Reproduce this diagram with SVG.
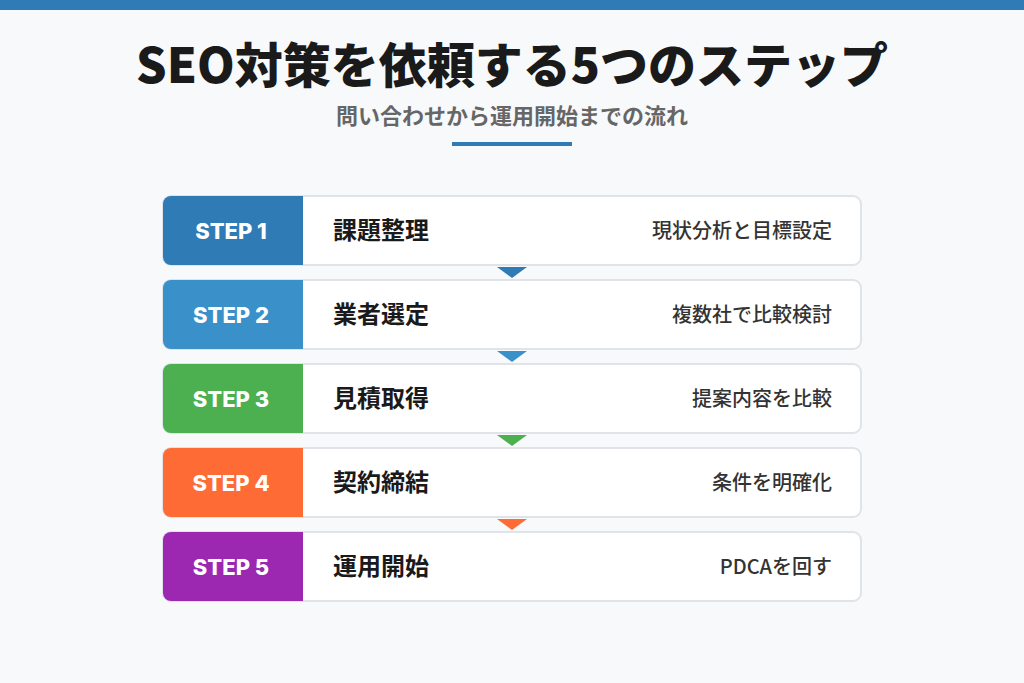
<svg xmlns="http://www.w3.org/2000/svg" width="1024" height="683" viewBox="0 0 1024 683">
<defs>
<style>
.bg{fill:#F7F9FB}
.card{fill:#FFFFFF;stroke:#E0E3E8;stroke-width:2}
.step{font-family:"Inter","Liberation Sans",sans-serif;font-weight:800;font-size:22px;fill:#FFFFFF;text-anchor:middle}
.name{font-family:"Noto Sans CJK JP",sans-serif;font-weight:700;font-size:24px;fill:#1A1A1A}
.desc{font-family:"Noto Sans CJK JP",sans-serif;font-weight:500;font-size:20px;fill:#333333;text-anchor:end}
</style>
</defs>
<rect class="bg" x="0" y="0" width="1024" height="683"/>
<rect x="0" y="0" width="1024" height="10" fill="#2E7BB6"/>
<text x="512" y="83" text-anchor="middle" font-family="'Noto Sans CJK JP',sans-serif" font-weight="900" font-size="48" fill="#1A1A1A">SEO対策を依頼する5つのステップ</text>
<text x="512" y="124" text-anchor="middle" font-family="'Noto Sans CJK JP',sans-serif" font-weight="700" font-size="22" fill="#666666">問い合わせから運用開始までの流れ</text>
<rect x="452" y="142" width="120" height="4" fill="#2E7BB6"/>

<g id="step1">
<rect class="card" x="163" y="196" width="698" height="69" rx="8"/>
<path d="M171,196 H303 V265 H171 A8,8 0 0 1 163,257 V204 A8,8 0 0 1 171,196 Z" fill="#2E7BB6"/>
<text class="step" x="231" y="239">STEP 1</text>
<text class="name" x="333" y="239">課題整理</text>
<text class="desc" x="832" y="238">現状分析と目標設定</text>
</g>
<g id="step2">
<rect class="card" x="163" y="280" width="698" height="69" rx="8"/>
<path d="M171,280 H303 V349 H171 A8,8 0 0 1 163,341 V288 A8,8 0 0 1 171,280 Z" fill="#3A90C9"/>
<text class="step" x="231" y="323">STEP 2</text>
<text class="name" x="333" y="323">業者選定</text>
<text class="desc" x="832" y="322">複数社で比較検討</text>
</g>
<g id="step3">
<rect class="card" x="163" y="364" width="698" height="69" rx="8"/>
<path d="M171,364 H303 V433 H171 A8,8 0 0 1 163,425 V372 A8,8 0 0 1 171,364 Z" fill="#4CAF50"/>
<text class="step" x="231" y="407">STEP 3</text>
<text class="name" x="333" y="407">見積取得</text>
<text class="desc" x="832" y="406">提案内容を比較</text>
</g>
<g id="step4">
<rect class="card" x="163" y="448" width="698" height="69" rx="8"/>
<path d="M171,448 H303 V517 H171 A8,8 0 0 1 163,509 V456 A8,8 0 0 1 171,448 Z" fill="#FF6B35"/>
<text class="step" x="231" y="491">STEP 4</text>
<text class="name" x="333" y="491">契約締結</text>
<text class="desc" x="832" y="490">条件を明確化</text>
</g>
<g id="step5">
<rect class="card" x="163" y="532" width="698" height="69" rx="8"/>
<path d="M171,532 H303 V601 H171 A8,8 0 0 1 163,593 V540 A8,8 0 0 1 171,532 Z" fill="#9C27B0"/>
<text class="step" x="231" y="575">STEP 5</text>
<text class="name" x="333" y="575">運用開始</text>
<text class="desc" x="832" y="574">PDCAを回す</text>
</g>

<g id="connectors">
<polygon points="497,267 527,267 512,278" fill="#2E7BB6"/>
<polygon points="497,351 527,351 512,362" fill="#3A90C9"/>
<polygon points="497,435 527,435 512,446" fill="#4CAF50"/>
<polygon points="497,519 527,519 512,530" fill="#FF6B35"/>
</g>
</svg>
